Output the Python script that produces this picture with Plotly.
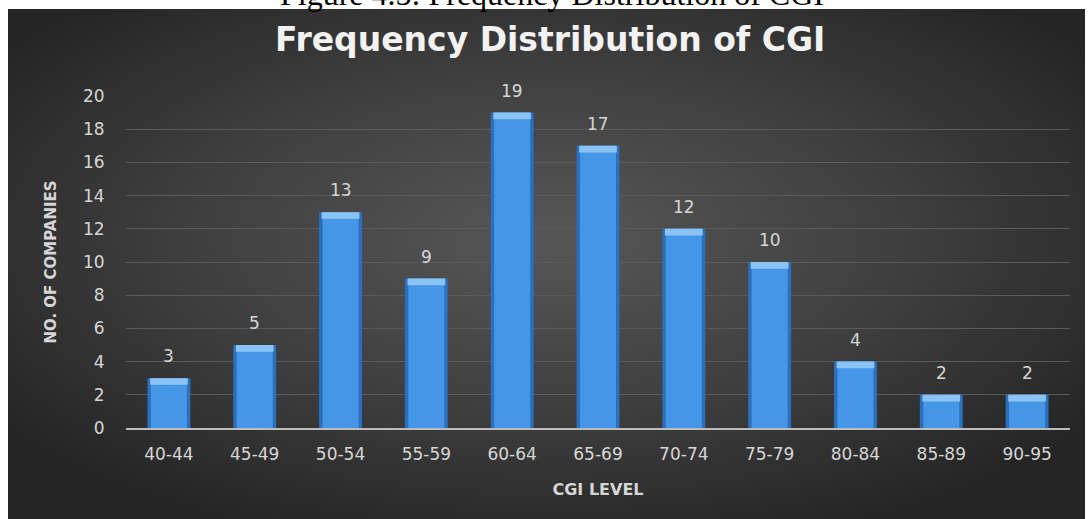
import base64
import plotly.graph_objects as go

# CGI score bands and number of companies in each band
cgi_levels = ["40-44", "45-49", "50-54", "55-59", "60-64", "65-69",
              "70-74", "75-79", "80-84", "85-89", "90-95"]
companies = [3, 5, 13, 9, 19, 17, 12, 10, 4, 2, 2]
y_ticks = [0, 2, 4, 6, 8, 10, 12, 14, 16, 18, 20]

W, H = 1089, 519
M_L, M_R, M_T, M_B = 126, 19, 96, 91
plot_w = W - M_L - M_R
plot_h = H - M_T - M_B


def px_x(px):
    return (px - M_L) / plot_w


def px_y(py):
    return (H - M_B - py) / plot_h


# dark panel with a soft radial glow behind the chart
svg = (
    '<svg xmlns="http://www.w3.org/2000/svg" width="1077" height="510" '
    'viewBox="0 0 1077 510" preserveAspectRatio="none">'
    '<defs><radialGradient id="g" cx="50%" cy="45%" r="62%">'
    '<stop offset="0" stop-color="#575757"/>'
    '<stop offset="0.55" stop-color="#3e3e3e"/>'
    '<stop offset="1" stop-color="#252525"/>'
    '</radialGradient></defs>'
    '<rect width="1077" height="510" fill="url(#g)"/></svg>'
)
panel_src = "data:image/svg+xml;base64," + base64.b64encode(svg.encode()).decode()

cap = 0.4  # height of the bevel highlight on each bar

fig = go.Figure()
fig.add_trace(go.Bar(x=cgi_levels, y=companies, width=0.5,
                     marker=dict(color="#2b6fbd", line=dict(width=0)),
                     hoverinfo="skip"))
fig.add_trace(go.Bar(x=cgi_levels, y=companies, width=0.42,
                     marker=dict(color="#4596e6", line=dict(width=0)),
                     hoverinfo="skip"))
fig.add_trace(go.Bar(x=cgi_levels, y=[cap] * len(companies),
                     base=[v - cap for v in companies], width=0.44,
                     marker=dict(color="#8ac4f5", line=dict(width=0)),
                     hoverinfo="skip"))

label_font = dict(family="DejaVu Sans", size=17, color="#d6d6d6")
annotations = [
    dict(x=c, y=v, xref="x", yref="y", text=str(v), showarrow=False,
         yanchor="bottom", yshift=10, font=label_font)
    for c, v in zip(cgi_levels, companies)
]

annotations.append(dict(
    x=px_x(550), y=px_y(39), xref="paper", yref="paper",
    text="<b>Frequency Distribution of CGI</b>", showarrow=False,
    xanchor="center", yanchor="middle",
    font=dict(family="DejaVu Sans", size=33, color="#f2f2f2")))

annotations.append(dict(
    x=px_x(552), y=px_y(14), xref="paper", yref="paper",
    text="Figure 4.5: Frequency Distribution of CGI", showarrow=False,
    xanchor="center", yanchor="bottom",
    font=dict(family="Liberation Serif", size=32, color="#000000")))

fig.update_layout(
    width=W, height=H,
    margin=dict(l=M_L, r=M_R, t=M_T, b=M_B, pad=0),
    paper_bgcolor="#ffffff",
    plot_bgcolor="rgba(0,0,0,0)",
    barmode="overlay",
    showlegend=False,
    annotations=annotations,
    images=[dict(source=panel_src, xref="paper", yref="paper",
                 x=px_x(8), y=px_y(9),
                 sizex=(1085 - 8) / plot_w, sizey=(519 - 9) / plot_h,
                 xanchor="left", yanchor="top", sizing="stretch",
                 layer="below")],
    xaxis=dict(
        type="category",
        showgrid=False,
        showline=True, linecolor="#bdbdbd", linewidth=2,
        ticks="outside", ticklen=10, tickcolor="rgba(0,0,0,0)",
        tickfont=dict(family="DejaVu Sans", size=17, color="#d6d6d6"),
        title=dict(text="<b>CGI LEVEL</b>", standoff=20,
                   font=dict(family="DejaVu Sans", size=16, color="#d6d6d6")),
    ),
    yaxis=dict(
        range=[0, 20],
        tickvals=y_ticks,
        showgrid=True, gridcolor="#5a5a5a", gridwidth=1,
        zeroline=False, showline=False,
        ticks="outside", ticklen=17, tickcolor="rgba(0,0,0,0)",
        tickfont=dict(family="DejaVu Sans", size=17, color="#d6d6d6"),
        title=dict(text="<b>NO. OF COMPANIES</b>", standoff=22,
                   font=dict(family="DejaVu Sans", size=15, color="#d6d6d6")),
    ),
)

fig.write_html("out.html")
